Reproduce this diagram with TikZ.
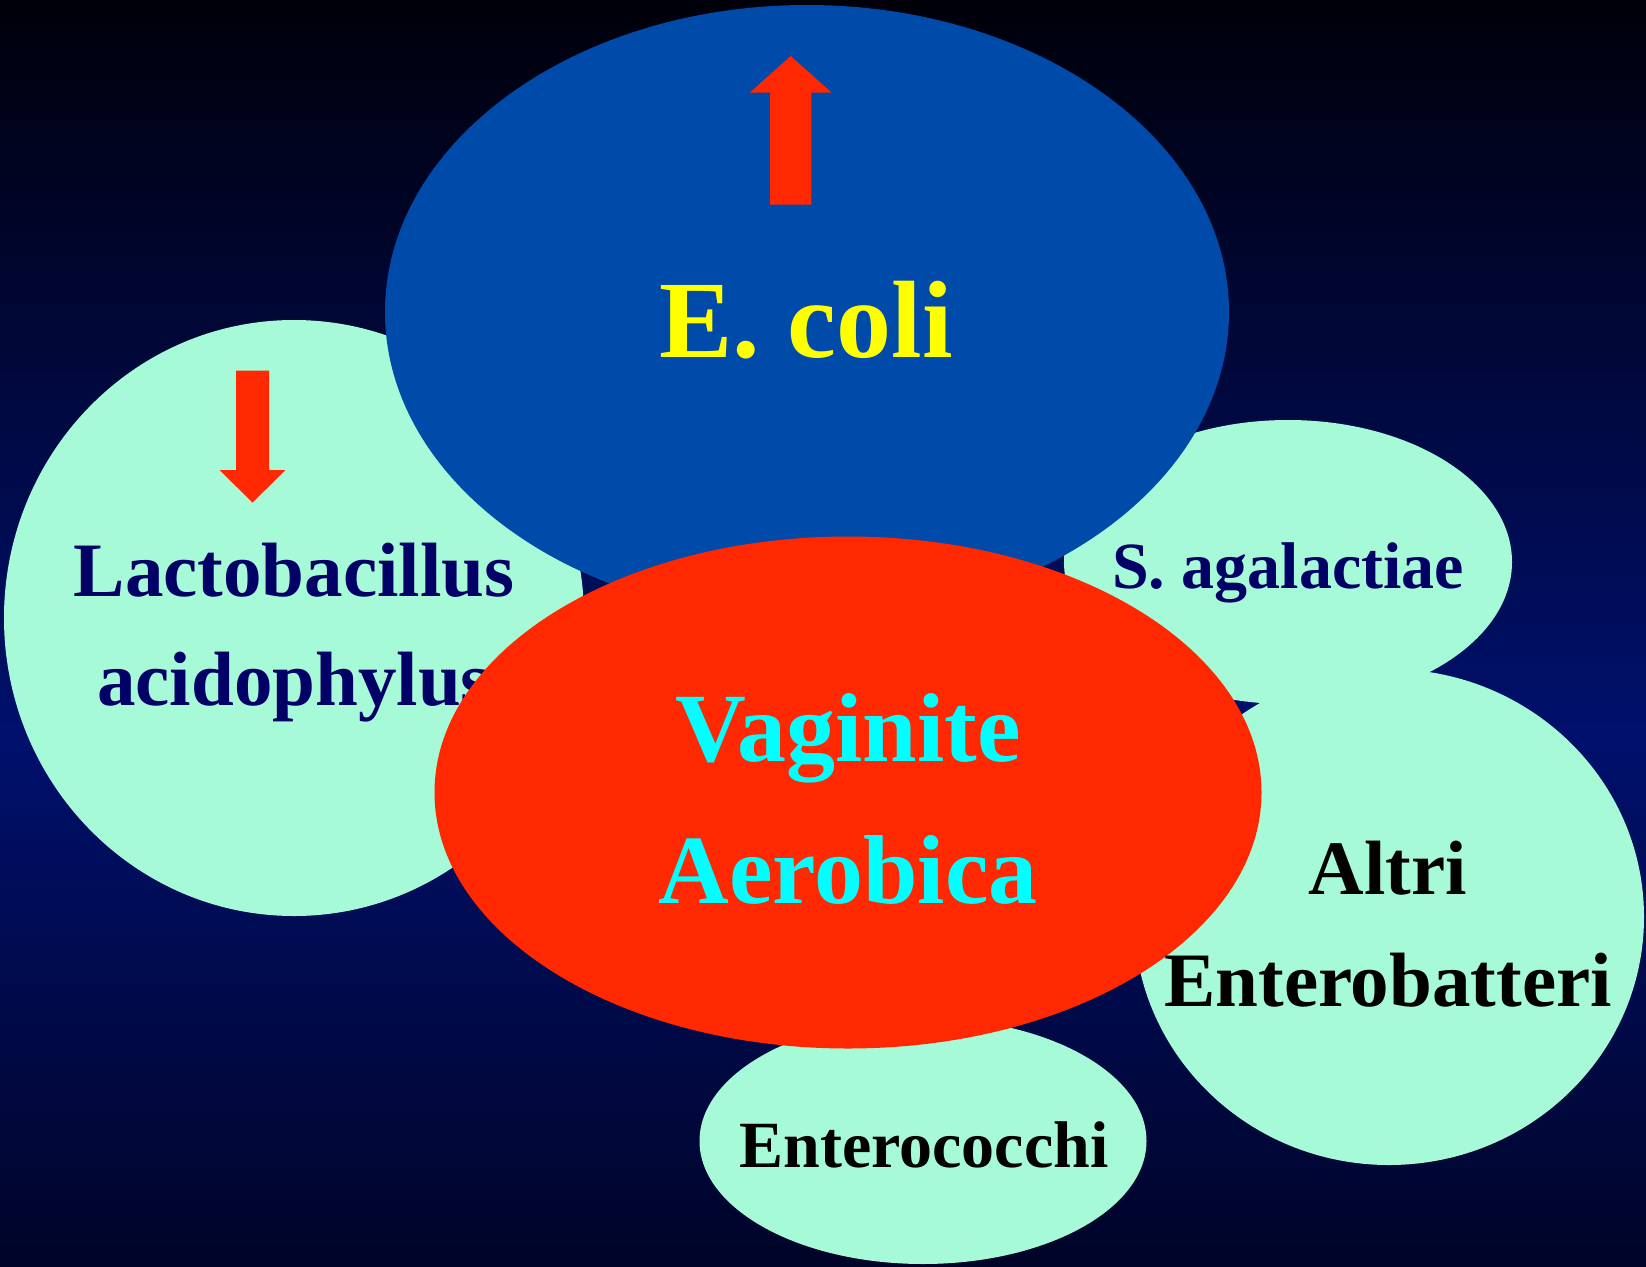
\documentclass[tikz,border=0pt]{standalone}
\usepackage{fontspec}
\setmainfont{Liberation Serif}
\usetikzlibrary{shapes.geometric}
\definecolor{mint}{RGB}{166,250,216}
\definecolor{eblue}{RGB}{0,74,170}
\definecolor{vred}{RGB}{255,40,0}
\definecolor{navytext}{RGB}{0,0,102}
\definecolor{cyantext}{RGB}{0,255,255}
\definecolor{yellowtext}{RGB}{255,255,0}
\definecolor{bgtop}{RGB}{0,0,10}
\definecolor{bgmid}{RGB}{0,16,108}
\definecolor{bgbot}{RGB}{0,4,40}
\tikzset{
  blob/.style={ellipse, inner sep=0pt, draw=none},
  lbl/.style={anchor=base, inner sep=0pt, font=\bfseries},
}
\newcommand{\fsz}[1]{\fontsize{#1}{#1}\selectfont}
\begin{document}
\begin{tikzpicture}[x=1pt,y=-1pt]
% background
\shade[top color=bgtop, bottom color=bgmid] (0,0) rectangle (1646,735);
\shade[top color=bgmid, bottom color=bgbot] (0,734) rectangle (1646,1266);
\useasboundingbox (0,0) rectangle (1646,1266);

% Lactobacillus circle
\node[blob, fill=mint, minimum width=580pt, minimum height=596pt] (lacto) at (294,618) {};
\fill[vred] (236,370.7) -- (269,370.7) -- (269,470) -- (285.3,470) -- (252.5,502.7) -- (219.7,470) -- (236,470) -- cycle;
\node[lbl, text=navytext, font=\bfseries\fsz{77}] (lactoA) at (294,596) {Lactobacillus};
\node[lbl, text=navytext, font=\bfseries\fsz{77}] (lactoB) at (294,705) {acidophylus};

% S. agalactiae
\node[blob, fill=mint, minimum width=448pt, minimum height=284pt] (sagal) at (1288,562) {};
% Altri Enterobatteri
\node[blob, fill=mint, minimum width=510pt, minimum height=496pt] (altri) at (1389,917) {};
% Enterococchi
\node[blob, fill=mint, minimum width=447pt, minimum height=246pt] (entero) at (923,1141) {};

% E. coli
\node[blob, fill=eblue, minimum width=844pt, minimum height=614pt] (ecoli) at (807,312) {};
\fill[vred] (770,204.7) -- (770,92.7) -- (749.7,92.7) -- (790.7,56) -- (831.7,92.7) -- (811.3,92.7) -- (811.3,204.7) -- cycle;
\node[lbl, text=yellowtext, font=\bfseries\fsz{110}] (ecolit) at (806,357) {E. coli};

% Vaginite Aerobica
\node[blob, fill=vred, minimum width=827pt, minimum height=512pt] (vag) at (848,792.5) {};
\node[lbl, text=cyantext, font=\bfseries\fsz{98}] (vagA) at (848,761) {Vaginite};
\node[lbl, text=cyantext, font=\bfseries\fsz{98}] (vagB) at (848,903) {Aerobica};

% other labels
\node[lbl, text=navytext, font=\bfseries\fsz{66}] (sagalt) at (1288,588) {S. agalactiae};
\node[lbl, text=black, font=\bfseries\fsz{77}] (altriA) at (1388,894) {Altri};
\node[lbl, text=black, font=\bfseries\fsz{77}] (altriB) at (1388,1006) {Enterobatteri};
\node[lbl, text=black, font=\bfseries\fsz{66}] (enterot) at (924,1167) {Enterococchi};
\end{tikzpicture}
\end{document}
